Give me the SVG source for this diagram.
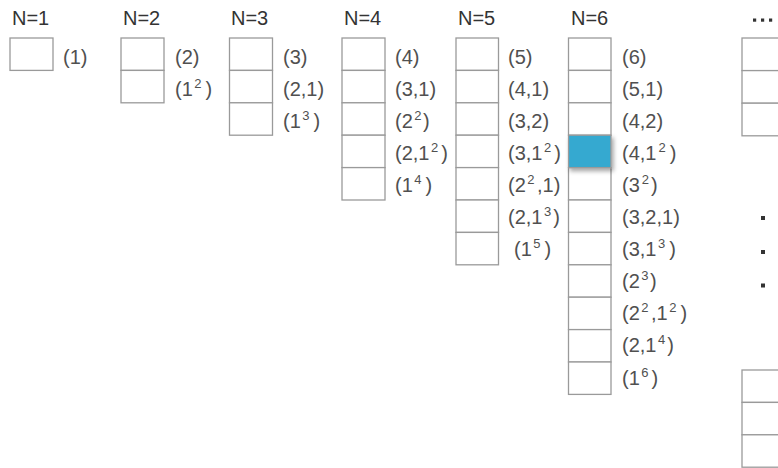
<svg xmlns="http://www.w3.org/2000/svg" width="778" height="468" viewBox="0 0 778 468">
<defs>
<style>
.c{fill:#fff;stroke:#9a9a9a;stroke-width:1.3}
.hl{fill:#35a9d0;stroke:#9a9a9a;stroke-width:1.3}
.h{font-family:"Liberation Sans",Arial,sans-serif;font-size:20px;fill:#333}
.l{font-family:"Liberation Sans",Arial,sans-serif;font-size:20px;fill:#505050}
.s{font-size:13px}
.d{fill:#333}
</style>
<filter id="sh" x="-20%" y="-20%" width="150%" height="160%">
<feDropShadow dx="2" dy="3" stdDeviation="2" flood-color="#000" flood-opacity="0.35"/>
</filter>
</defs>
<rect width="778" height="468" fill="#fff"/>

<g id="col1">
<text class="h" x="12" y="24.5">N=1</text>
<rect class="c" x="10" y="38" width="43" height="32.4"/>
<text class="l" x="63" y="64">(1)</text>
</g>

<g id="col2">
<text class="h" x="123" y="24.5">N=2</text>
<rect class="c" x="121" y="38" width="43" height="32.4"/>
<rect class="c" x="121" y="70.4" width="43" height="32.4"/>
<text class="l" x="175" y="64">(2)</text>
<text class="l" x="175" y="96">(1<tspan class="s" dy="-8" dx="1.5">2</tspan><tspan dy="8" dx="4">)</tspan></text>
</g>

<g id="col3">
<text class="h" x="231" y="24.5">N=3</text>
<rect class="c" x="229.5" y="38" width="43" height="32.4"/>
<rect class="c" x="229.5" y="70.4" width="43" height="32.4"/>
<rect class="c" x="229.5" y="102.8" width="43" height="32.4"/>
<text class="l" x="283" y="64">(3)</text>
<text class="l" x="283" y="96">(2,1)</text>
<text class="l" x="283" y="128.1">(1<tspan class="s" dy="-8" dx="1.5">3</tspan><tspan dy="8" dx="4">)</tspan></text>
</g>

<g id="col4">
<text class="h" x="344" y="24.5">N=4</text>
<rect class="c" x="342" y="38" width="43" height="32.4"/>
<rect class="c" x="342" y="70.4" width="43" height="32.4"/>
<rect class="c" x="342" y="102.8" width="43" height="32.4"/>
<rect class="c" x="342" y="135.2" width="43" height="32.4"/>
<rect class="c" x="342" y="167.6" width="43" height="32.4"/>
<text class="l" x="395" y="64">(4)</text>
<text class="l" x="395" y="96">(3,1)</text>
<text class="l" x="395" y="128.1">(2<tspan class="s" dy="-8" dx="1.5">2</tspan><tspan dy="8" dx="1.5">)</tspan></text>
<text class="l" x="395" y="160.1">(2,1<tspan class="s" dy="-8" dx="1.5">2</tspan><tspan dy="8" dx="3">)</tspan></text>
<text class="l" x="395" y="192.2">(1<tspan class="s" dy="-8" dx="1.5">4</tspan><tspan dy="8" dx="4">)</tspan></text>
</g>

<g id="col5">
<text class="h" x="458" y="24.5">N=5</text>
<rect class="c" x="456" y="38" width="42.5" height="32.4"/>
<rect class="c" x="456" y="70.4" width="42.5" height="32.4"/>
<rect class="c" x="456" y="102.8" width="42.5" height="32.4"/>
<rect class="c" x="456" y="135.2" width="42.5" height="32.4"/>
<rect class="c" x="456" y="167.6" width="42.5" height="32.4"/>
<rect class="c" x="456" y="200" width="42.5" height="32.4"/>
<rect class="c" x="456" y="232.4" width="42.5" height="32.4"/>
<text class="l" x="508" y="64">(5)</text>
<text class="l" x="508" y="96">(4,1)</text>
<text class="l" x="508" y="128.1">(3,2)</text>
<text class="l" x="508" y="160.1">(3,1<tspan class="s" dy="-8" dx="1.5">2</tspan><tspan dy="8" dx="3">)</tspan></text>
<text class="l" x="508" y="192.2">(2<tspan class="s" dy="-8" dx="1.5">2</tspan><tspan dy="8" dx="2.5">,1)</tspan></text>
<text class="l" x="508" y="224.2">(2,1<tspan class="s" dy="-8" dx="1.5">3</tspan><tspan dy="8" dx="2">)</tspan></text>
<text class="l" x="514" y="256.3">(1<tspan class="s" dy="-8" dx="1.5">5</tspan><tspan dy="8" dx="4">)</tspan></text>
</g>

<g id="col6">
<text class="h" x="571" y="24.5">N=6</text>
<rect class="c" x="568.5" y="38" width="42.5" height="32.4"/>
<rect class="c" x="568.5" y="70.4" width="42.5" height="32.4"/>
<rect class="c" x="568.5" y="102.8" width="42.5" height="32.4"/>
<rect class="c" x="568.5" y="167.6" width="42.5" height="32.4"/>
<rect class="c" x="568.5" y="200" width="42.5" height="32.4"/>
<rect class="c" x="568.5" y="232.4" width="42.5" height="32.4"/>
<rect class="c" x="568.5" y="264.8" width="42.5" height="32.4"/>
<rect class="c" x="568.5" y="297.2" width="42.5" height="32.4"/>
<rect class="c" x="568.5" y="329.6" width="42.5" height="32.4"/>
<rect class="c" x="568.5" y="362" width="42.5" height="32.4"/>
<rect id="highlight" class="hl" x="568.5" y="135.2" width="42.5" height="32.4" filter="url(#sh)"/>
<text class="l" x="622" y="64">(6)</text>
<text class="l" x="622" y="96">(5,1)</text>
<text class="l" x="622" y="128.1">(4,2)</text>
<text class="l" x="622" y="160.1">(4,1<tspan class="s" dy="-8" dx="2">2</tspan><tspan dy="8" dx="4">)</tspan></text>
<text class="l" x="622" y="192.2">(3<tspan class="s" dy="-8" dx="2">2</tspan><tspan dy="8" dx="2">)</tspan></text>
<text class="l" x="622" y="224.2">(3,2,1)</text>
<text class="l" x="622" y="256.3">(3,1<tspan class="s" dy="-8" dx="1.5">3</tspan><tspan dy="8" dx="4">)</tspan></text>
<text class="l" x="622" y="288.3">(2<tspan class="s" dy="-8" dx="1.5">3</tspan><tspan dy="8" dx="1.5">)</tspan></text>
<text class="l" x="622" y="320.4">(2<tspan class="s" dy="-8" dx="1.5">2</tspan><tspan dy="8" dx="2.5">,1</tspan><tspan class="s" dy="-8" dx="1.5">2</tspan><tspan dy="8" dx="4">)</tspan></text>
<text class="l" x="622" y="352.4">(2,1<tspan class="s" dy="-8" dx="1.5">4</tspan><tspan dy="8" dx="2">)</tspan></text>
<text class="l" x="622" y="384.5">(1<tspan class="s" dy="-8" dx="1.5">6</tspan><tspan dy="8" dx="3">)</tspan></text>
</g>

<g id="colN">
<rect class="d" x="753" y="18.5" width="3.2" height="3.2"/>
<rect class="d" x="761" y="18.5" width="3.2" height="3.2"/>
<rect class="d" x="769" y="18.5" width="3.2" height="3.2"/>
<rect class="c" x="742" y="38" width="50" height="32.6"/>
<rect class="c" x="742" y="70.6" width="50" height="32.6"/>
<rect class="c" x="742" y="103.2" width="50" height="32.6"/>
<rect class="d" x="761" y="216" width="4" height="4"/>
<rect class="d" x="761" y="250" width="4" height="4"/>
<rect class="d" x="761" y="283.5" width="4" height="4"/>
<rect class="c" x="742" y="370" width="50" height="32.4"/>
<rect class="c" x="742" y="402.4" width="50" height="32.4"/>
<rect class="c" x="742" y="434.8" width="50" height="32.4"/>
</g>
</svg>
